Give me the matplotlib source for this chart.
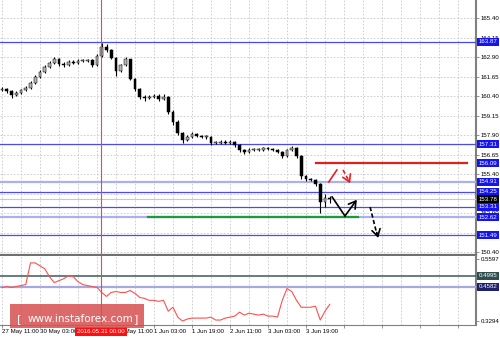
import numpy as np
import matplotlib
matplotlib.use('Agg')
import matplotlib.pyplot as plt
from matplotlib.transforms import blended_transform_factory
from matplotlib.patches import Rectangle

plt.rcParams['font.family'] = ['Liberation Sans', 'DejaVu Sans']
FS = 4.4

# 2-hour bars, index 0 = 27 May 11:00
first_open = 160.80
closes = [160.85, 160.72, 160.46, 160.59, 160.78, 160.91, 161.23, 161.62, 161.94, 162.26,
          162.52, 162.77, 162.45, 162.39, 162.58, 162.52, 162.64, 162.64, 162.71, 162.39,
          162.96, 163.54, 163.35, 162.84, 162.00, 162.39, 162.77, 161.49, 160.85, 160.34,
          160.27, 160.34, 160.40, 160.21, 160.34, 159.37, 158.73, 158.03, 157.58, 157.77,
          157.96, 157.84, 157.77, 157.77, 157.39, 157.39, 157.45, 157.39, 157.45, 157.26,
          156.94, 156.81, 156.94, 156.94, 156.94, 157.07, 157.00, 156.94, 156.81, 156.55,
          156.94, 157.07, 156.55, 155.27, 155.08, 155.02, 154.76, 153.61, 153.86, 153.78]
highs = [160.98, 160.93, 160.80, 160.70, 160.88, 161.02, 161.33, 161.72, 162.05, 162.38,
         162.66, 162.92, 162.85, 162.55, 162.68, 162.70, 162.74, 162.75, 162.80, 162.76,
         163.08, 163.80, 163.72, 163.42, 162.90, 162.48, 162.88, 162.80, 161.55, 160.90,
         160.45, 160.48, 160.55, 160.50, 160.52, 160.40, 159.50, 158.85, 158.10, 157.90,
         158.08, 158.05, 157.92, 157.88, 157.85, 157.52, 157.58, 157.55, 157.60, 157.52,
         157.30, 157.02, 157.05, 157.04, 157.05, 157.15, 157.12, 157.06, 157.00, 156.88,
         157.02, 157.20, 157.15, 156.60, 155.35, 155.15, 155.08, 154.82, 154.10, 154.00]
lows = [160.70, 160.62, 160.27, 160.38, 160.50, 160.70, 160.84, 161.15, 161.55, 161.86,
        162.18, 162.45, 162.33, 162.28, 162.32, 162.44, 162.46, 162.55, 162.56, 162.25,
        162.35, 162.90, 163.22, 162.74, 161.68, 161.92, 162.30, 161.40, 160.72, 160.20,
        160.10, 160.18, 160.28, 160.10, 160.15, 159.25, 158.55, 157.90, 157.39, 157.50,
        157.70, 157.75, 157.68, 157.66, 157.28, 157.30, 157.33, 157.30, 157.32, 157.15,
        156.82, 156.70, 156.75, 156.85, 156.86, 156.88, 156.92, 156.86, 156.72, 156.40,
        156.50, 156.90, 156.42, 155.10, 154.98, 154.92, 154.62, 152.90, 153.30, 153.55]

# oscillator in lower window
osc = [0.4547, 0.4584, 0.4547, 0.4584, 0.4620, 0.4657, 0.5468, 0.5468, 0.5357, 0.5247,
       0.4952, 0.4731, 0.4805, 0.4878, 0.4989, 0.4952, 0.4768, 0.4657, 0.4620, 0.4584,
       0.4547, 0.4363, 0.4215, 0.4363, 0.4399, 0.4363, 0.4363, 0.4436, 0.4326, 0.4178,
       0.4141, 0.4068, 0.4068, 0.4031, 0.4068, 0.3662, 0.3810, 0.3441, 0.3294, 0.3368,
       0.3404, 0.3404, 0.3404, 0.3404, 0.3441, 0.3331, 0.3331, 0.3404, 0.3441, 0.3478,
       0.3626, 0.3515, 0.3589, 0.3552, 0.3515, 0.3552, 0.3478, 0.3478, 0.3441, 0.4068,
       0.4510, 0.4399, 0.4068, 0.3810, 0.3810, 0.3810, 0.3847, 0.3331, 0.3662, 0.3920]

price_ticks = [165.40, 164.15, 162.90, 161.65, 160.40, 159.15, 157.90, 156.65,
               155.40, 154.15, 152.90, 151.65, 150.40]
blue_levels = [163.87, 157.31, 154.25, 153.31, 151.49]
pale_levels = [154.91, 152.62]
bid_price = 153.78
resistance = 156.09
support = 152.62
osc_levels = [0.4995, 0.4582]
osc_ticks = [0.5597, 0.3294]
time_labels = ['27 May 11:00', '30 May 03:00', '30 May 19:00', '31 May 11:00', '1 Jun 03:00',
               '1 Jun 19:00', '2 Jun 11:00', '3 Jun 03:00', '3 Jun 19:00']
cursor_label = '2016.05.31 00:00'

W, H = 500, 338
fig = plt.figure(figsize=(W / 100, H / 100), dpi=100)
fig.patch.set_facecolor('white')
ax = fig.add_axes([0, 83 / H, 476 / W, 255 / H])
ax2 = fig.add_axes([0, 13 / H, 476 / W, 69 / H])

x = np.arange(len(closes))
opens = [first_open] + closes[:-1]
xmin, xmax = -2 / 4.75, 474 / 4.75
grid_style = dict(color='#c8c8c8', linestyle=(0, (2, 2)), linewidth=0.6)

# ---- price window
ax.set_xlim(xmin, xmax)
ax.set_ylim(150.208, 166.554)
ax.set_yticks(price_ticks)
ax.set_yticklabels(['%.2f' % t for t in price_ticks])
ax.yaxis.tick_right()
ax.tick_params(axis='y', length=2, width=0.6, color='#808080', labelsize=FS, pad=1.5)
ax.set_xticks(np.arange(0, 100, 4))
ax.tick_params(axis='x', length=0, labelbottom=False)
ax.grid(True, **grid_style)
ax.set_axisbelow(True)
for s in ['left', 'top']:
    ax.spines[s].set_visible(False)
ax.spines['right'].set_color('#808080')
ax.spines['right'].set_linewidth(1.5)
ax.spines['bottom'].set_color('#707070')
ax.spines['bottom'].set_linewidth(1.6)

body_lo = np.minimum(opens, closes)
body_h = np.maximum(np.abs(np.array(closes) - np.array(opens)), 0.04)
up = np.array(closes) >= np.array(opens)
ax.vlines(x, lows, highs, color='black', lw=0.8, zorder=4)
ax.bar(x, body_h, bottom=body_lo, width=0.6,
       color=np.where(up, '#b4b4b4', 'black'), edgecolor='black', lw=0.35, zorder=5)

for lv in blue_levels:
    ax.axhline(lv, color='#4848ff', lw=0.9, zorder=3)
for lv in pale_levels:
    ax.axhline(lv, color='#aab0f0', lw=1.6, zorder=3)
ax.axhline(bid_price, color='#c8c8c8', lw=0.8, zorder=3)
ax.plot([66.1, 97.9], [resistance, resistance], color='#e02020', lw=1.6, zorder=4)
ax.plot([30.7, 74.9], [support, support], color='#1f9a3a', lw=1.6, zorder=4)

# forecast arrows
head = '->,head_length=0.5,head_width=0.3'
ax.plot([69.5, 72.2], [153.93, 152.71], color='black', lw=1.2, zorder=6)
ax.annotate('', xy=(74.7, 153.75), xytext=(72.2, 152.71), zorder=6,
            arrowprops=dict(arrowstyle=head, color='black', lw=1.2, shrinkA=0, shrinkB=0))
ax.plot([77.5, 79.0], [153.28, 151.45], color='black', lw=1.2, ls=(0, (2.5, 1.5)), zorder=6)
ax.annotate('', xy=(79.2, 151.30), xytext=(78.9, 151.65), zorder=6,
            arrowprops=dict(arrowstyle=head, color='black', lw=1.2, shrinkA=0, shrinkB=0))
ax.plot([68.8, 70.5], [154.89, 155.66], color='#e82020', lw=1.2, zorder=6)
ax.plot([71.8, 73.1], [155.66, 154.92], color='#e82020', lw=1.2, ls=(0, (2.5, 1.5)), zorder=6)
ax.annotate('', xy=(73.3, 154.80), xytext=(73.0, 155.00), zorder=6,
            arrowprops=dict(arrowstyle=head, color='#e82020', lw=1.2, shrinkA=0, shrinkB=0))

tr = blended_transform_factory(ax.transAxes, ax.transData)


def tag(axis, trans, y, text, bg):
    axis.text(1.006, y, text, transform=trans, ha='left', va='center', fontsize=FS, color='white',
              bbox=dict(boxstyle='square,pad=0.25', facecolor=bg, edgecolor='none'),
              clip_on=False, zorder=8)


for lv in blue_levels + pale_levels:
    tag(ax, tr, lv, '%.2f' % lv, '#1414f0')
tag(ax, tr, resistance, '%.2f' % resistance, '#1414f0')
tag(ax, tr, bid_price, '%.2f' % bid_price, 'black')

# ---- oscillator window
ax2.set_xlim(xmin, xmax)
ax2.set_ylim(0.3146, 0.5726)
ax2.plot(x, osc, color='#ff5050', lw=0.8, zorder=4)
ax2.axhline(osc_levels[0], color='#3c5a5a', lw=1.1, zorder=3)
ax2.axhline(osc_levels[1], color='#a8a8e0', lw=1.6, zorder=3)
ax2.set_yticks(osc_ticks)
ax2.set_yticklabels(['%.4f' % t for t in osc_ticks])
ax2.yaxis.tick_right()
ax2.tick_params(axis='y', length=2, width=0.6, color='#808080', labelsize=FS, pad=1.5)
major = np.arange(0, 100, 8)
ax2.set_xticks(major)
ax2.set_xticklabels(time_labels + [''] * (len(major) - len(time_labels)), ha='left')
ax2.set_xticks(np.arange(0, 100, 4), minor=True)
ax2.tick_params(axis='x', which='major', length=2, width=0.6, color='#808080', labelsize=FS, pad=1)
ax2.tick_params(axis='x', which='minor', length=0)
ax2.grid(True, axis='x', which='both', **grid_style)
ax2.set_axisbelow(True)
for s in ['left', 'top']:
    ax2.spines[s].set_visible(False)
ax2.spines['right'].set_color('#808080')
ax2.spines['right'].set_linewidth(1.5)
ax2.spines['bottom'].set_color('#808080')
ax2.spines['bottom'].set_linewidth(0.8)
tr2 = blended_transform_factory(ax2.transAxes, ax2.transData)
tag(ax2, tr2, osc_levels[0], '%.4f' % osc_levels[0], '#2f4f4f')
tag(ax2, tr2, osc_levels[1], '%.4f' % osc_levels[1], '#202070')

# cursor line through both windows
cursor_x = 20.84
ax.axvline(cursor_x, color='#ff4040', lw=0.8, zorder=7)
ax2.axvline(cursor_x, color='#ff4040', lw=0.8, zorder=7)
ax2.annotate(cursor_label, xy=(cursor_x, -0.09), xycoords=('data', 'axes fraction'),
             ha='center', va='center', fontsize=FS, color='white', zorder=9, annotation_clip=False,
             bbox=dict(boxstyle='square,pad=0.3', facecolor='#ff1010', edgecolor='none'))

# watermark
fig.add_artist(Rectangle((10 / W, 10 / H), 134 / W, 24 / H, transform=fig.transFigure,
                         facecolor='#d85050', alpha=0.85, edgecolor='none', zorder=10))
fig.text(19 / W, 19 / H, '[', color='white', fontsize=8, ha='center', va='center',
         family='DejaVu Sans', zorder=11)
fig.text(80 / W, 19 / H, 'www.instaforex.com', color='white', fontsize=7.5, ha='center', va='center',
         family='DejaVu Sans', zorder=11)
fig.text(136 / W, 19 / H, ']', color='white', fontsize=8, ha='center', va='center',
         family='DejaVu Sans', zorder=11)

fig.savefig('out.png', dpi=100)
